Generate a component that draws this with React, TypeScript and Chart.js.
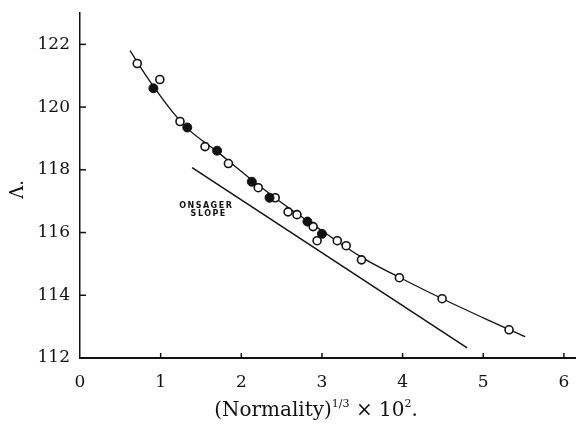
import React, { useEffect, useRef } from "react";
import { Chart, registerables } from "chart.js";

Chart.register(...registerables);

const xTicks = [0, 1, 2, 3, 4, 5, 6];
const yTicks = [112, 114, 116, 118, 120, 122];

const openX = [0.71, 0.99, 1.24, 1.55, 1.84, 2.21, 2.42, 2.58, 2.69, 2.89, 2.94, 3.19, 3.3, 3.49, 3.96, 4.49, 5.32];
const openY = [121.39, 120.88, 119.54, 118.74, 118.2, 117.43, 117.11, 116.66, 116.57, 116.19, 115.74, 115.74, 115.58, 115.13, 114.56, 113.89, 112.9];

const filledX = [0.91, 1.33, 1.7, 2.13, 2.35, 2.82, 3.0];
const filledY = [120.6, 119.35, 118.61, 117.62, 117.11, 116.35, 115.96];

const curveX = [0.62, 0.9, 1.3, 1.7, 2.1, 2.5, 3.0, 3.5, 4.0, 4.5, 5.0, 5.52];
const curveY = [121.8, 120.7, 119.4, 118.58, 117.74, 116.95, 116.06, 115.2, 114.52, 113.88, 113.28, 112.68];

const onsagerX = [1.39, 4.8];
const onsagerY = [118.07, 112.32];

const onsagerLabel = ["ONSAGER", "SLOPE"];
const onsagerLabelAt = { x: 1.565, y: 116.86 };

const yTitle = "Λ.";

const zip = (xs: number[], ys: number[]) => xs.map((x, i) => ({ x, y: ys[i] }));

const decorPlugin = {
  id: "decor",
  afterDraw(chart: any) {
    const ctx = chart.ctx;
    const xs = chart.scales.x;
    const ys = chart.scales.y;
    const area = chart.chartArea;
    ctx.save();
    ctx.strokeStyle = "#111";
    ctx.lineWidth = 1.5;
    yTicks.forEach((v) => {
      const py = ys.getPixelForValue(v);
      ctx.beginPath();
      ctx.moveTo(area.left, py);
      ctx.lineTo(area.left + 6, py);
      ctx.stroke();
    });
    xTicks.forEach((v) => {
      if (v === 0) return;
      const px = xs.getPixelForValue(v);
      ctx.beginPath();
      ctx.moveTo(px, area.bottom);
      ctx.lineTo(px, area.bottom - 5);
      ctx.stroke();
    });
    ctx.fillStyle = "#111";
    ctx.font = "bold 8px 'DejaVu Sans'";
    (ctx as any).letterSpacing = "1.5px";
    ctx.textAlign = "center";
    ctx.textBaseline = "middle";
    const lx = xs.getPixelForValue(onsagerLabelAt.x);
    const ly = ys.getPixelForValue(onsagerLabelAt.y);
    ctx.fillText(onsagerLabel[0], lx, ly);
    ctx.fillText(onsagerLabel[1], lx + 2.5, ly + 8);
    (ctx as any).letterSpacing = "0px";
    ctx.font = "18px 'DejaVu Serif'";
    ctx.translate(area.left - 62, (area.top + area.bottom) / 2 + 4);
    ctx.rotate(-Math.PI / 2);
    ctx.textAlign = "center";
    ctx.textBaseline = "middle";
    ctx.fillText(yTitle, 0, 0);
    ctx.restore();

    ctx.save();
    ctx.fillStyle = "#111";
    ctx.textBaseline = "alphabetic";
    ctx.textAlign = "left";
    const parts = [
      { t: "(Normality)", sup: false },
      { t: "1/3", sup: true },
      { t: " × 10", sup: false },
      { t: "2", sup: true },
      { t: ".", sup: false },
    ];
    const big = "20px 'DejaVu Serif'";
    const small = "11px 'DejaVu Serif'";
    let total = 0;
    parts.forEach((p) => {
      ctx.font = p.sup ? small : big;
      total += ctx.measureText(p.t).width;
    });
    let cx = 316 - total / 2;
    const base = area.bottom + 58;
    parts.forEach((p) => {
      ctx.font = p.sup ? small : big;
      ctx.fillText(p.t, cx, p.sup ? base - 9 : base);
      cx += ctx.measureText(p.t).width;
    });
    ctx.restore();
  },
};

export default function App() {
  const ref = useRef<HTMLCanvasElement>(null);
  useEffect(() => {
    if (!ref.current) return;
    const tickFont = { family: "'DejaVu Serif'", size: 17 };
    const chart = new Chart(ref.current, {
      type: "scatter",
      data: {
        datasets: [
          {
            label: "open",
            data: zip(openX, openY),
            pointRadius: 4,
            pointBackgroundColor: "#fff",
            pointBorderColor: "#111",
            pointBorderWidth: 1.6,
            showLine: false,
            order: 1,
          },
          {
            label: "filled",
            data: zip(filledX, filledY),
            pointRadius: 4.5,
            pointBackgroundColor: "#111",
            pointBorderColor: "#111",
            pointBorderWidth: 1,
            showLine: false,
            order: 0,
          },
          {
            label: "curve",
            data: zip(curveX, curveY),
            showLine: true,
            pointRadius: 0,
            borderColor: "#111",
            borderWidth: 1.3,
            tension: 0.4,
            order: 3,
          },
          {
            label: "onsager",
            data: zip(onsagerX, onsagerY),
            showLine: true,
            pointRadius: 0,
            borderColor: "#111",
            borderWidth: 1.5,
            order: 3,
          },
        ],
      },
      options: {
        responsive: false,
        animation: false,
        layout: { autoPadding: false, padding: { top: 13, left: 0, right: 0, bottom: 0 } },
        plugins: { legend: { display: false }, tooltip: { enabled: false } },
        scales: {
          x: {
            type: "linear",
            min: 0,
            max: 6.15,
            afterFit: (s: any) => {
              s.height = 68;
              s.paddingLeft = 0;
              s.paddingRight = 0;
            },
            afterBuildTicks: (s: any) => {
              s.ticks = xTicks.map((v) => ({ value: v }));
            },
            grid: { display: false, drawTicks: false },
            border: { display: true, color: "#111", width: 2 },
            ticks: { color: "#111", font: tickFont, padding: 14, maxRotation: 0 },
          },
          y: {
            type: "linear",
            min: 112,
            max: 123,
            afterFit: (s: any) => {
              s.width = 80;
              s.paddingTop = 0;
              s.paddingBottom = 0;
            },
            afterBuildTicks: (s: any) => {
              s.ticks = yTicks.map((v) => ({ value: v }));
            },
            grid: { display: false, drawTicks: false },
            border: { display: true, color: "#111", width: 1.5 },
            ticks: { color: "#111", font: tickFont, padding: 10 },
          },
        },
      },
      plugins: [decorPlugin],
    } as any);
    return () => chart.destroy();
  }, []);
  return (
    <div style={{ position: "fixed", left: 0, top: 0, width: 576, height: 426, background: "#fff" }}>
      <canvas ref={ref} width={576} height={426} style={{ width: 576, height: 426, display: "block" }} />
    </div>
  );
}
